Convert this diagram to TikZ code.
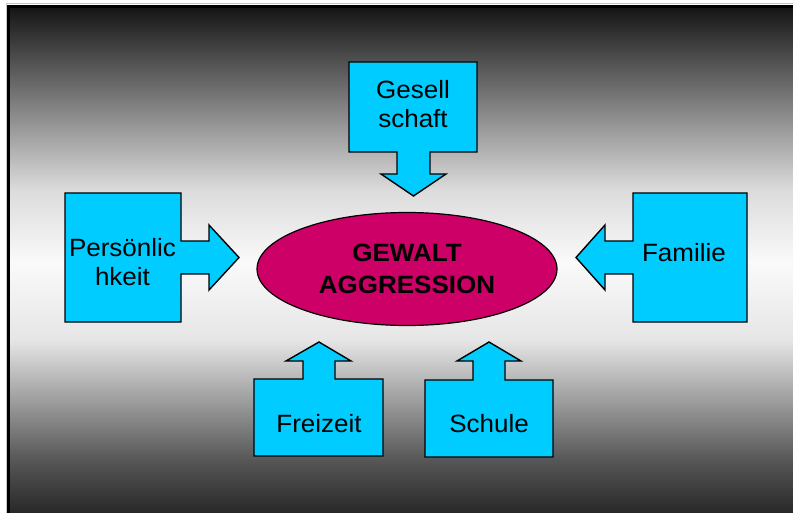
\documentclass[tikz,border=0pt]{standalone}
\usepackage{fontspec}
\setmainfont{Liberation Sans}[FakeStretch=1.04]
\usetikzlibrary{shapes.geometric}
\definecolor{calloutblue}{HTML}{00CCFF}
\definecolor{kernred}{HTML}{CC0066}
\pgfdeclareverticalshading{framegrad}{100bp}{color(0bp)=(black!86); color(25bp)=(black!86);
	color(30.7bp)=(black!66); color(42.4bp)=(black!10); color(50bp)=(black!2);
	color(57.1bp)=(black!14); color(69.8bp)=(black!69); color(75bp)=(black!92); color(100bp)=(black!92)}

\begin{document}
\begin{tikzpicture}[x=1pt,y=-1pt,
			box/.style={fill=calloutblue,draw=black,line width=1.4pt,line join=miter},
			lbl/.style={align=center,inner sep=0pt,font=\fontsize{25}{29}\selectfont},
			kern/.style={ellipse,fill=kernred,draw=black,line width=1.2pt,inner sep=0pt,
				minimum width=300pt,minimum height=113pt,align=center,
				font=\bfseries\fontsize{25}{32.3}\selectfont}]
		\useasboundingbox (0,0) rectangle (793,513);
		\draw [gray!45,line width=1pt] (6.5,4) rectangle (800,520);
		\shade [shading=framegrad] (8.5,6.5) rectangle (800,518);
		\draw [black,line width=2.5pt] (8.5,6.5) rectangle (800,518);
		\filldraw [box] (349,62) -- (477,62) -- (477,152) -- (430,152) -- (430,174) -- (446,174) -- (413.5,196)
			-- (381,174) -- (397,174) -- (397,152) -- (349,152) -- cycle;
		\filldraw [box] (65,193) -- (181,193) -- (181,241) -- (209,241) -- (209,225) -- (239,257.5)
			-- (209,290) -- (209,274) -- (181,274) -- (181,322) -- (65,322) -- cycle;
		\filldraw [box] (747,193) -- (633,193) -- (633,241) -- (605,241) -- (605,225) -- (576,257.5)
			-- (605,290) -- (605,274) -- (633,274) -- (633,322) -- (747,322) -- cycle;
		\filldraw [box] (254,456) -- (254,379) -- (303,379) -- (303,361) -- (286,361) -- (319,342)
			-- (351,361) -- (335,361) -- (335,379) -- (383,379) -- (383,456) -- cycle;
		\filldraw [box] (425,457) -- (425,380) -- (473,380) -- (473,361) -- (457,361) -- (489,342)
			-- (521,361) -- (505,361) -- (505,380) -- (553,380) -- (553,457) -- cycle;
		\path 	(407,269)	node	(gewalt)	[kern] {GEWALT\\AGGRESSION}
				(413,103.7)	node	(gesell)	[lbl] {Gesell\\schaft}
				(122.5,262.5)	node	(person)	[lbl] {Persönlic\\hkeit}
				(684,252.6)	node	(familie)	[lbl] {Familie}
				(319,423.3)	node	(freizeit)	[lbl] {Freizeit}
				(489,423.3)	node	(schule)	[lbl] {Schule};
	\end{tikzpicture}
\end{document}
